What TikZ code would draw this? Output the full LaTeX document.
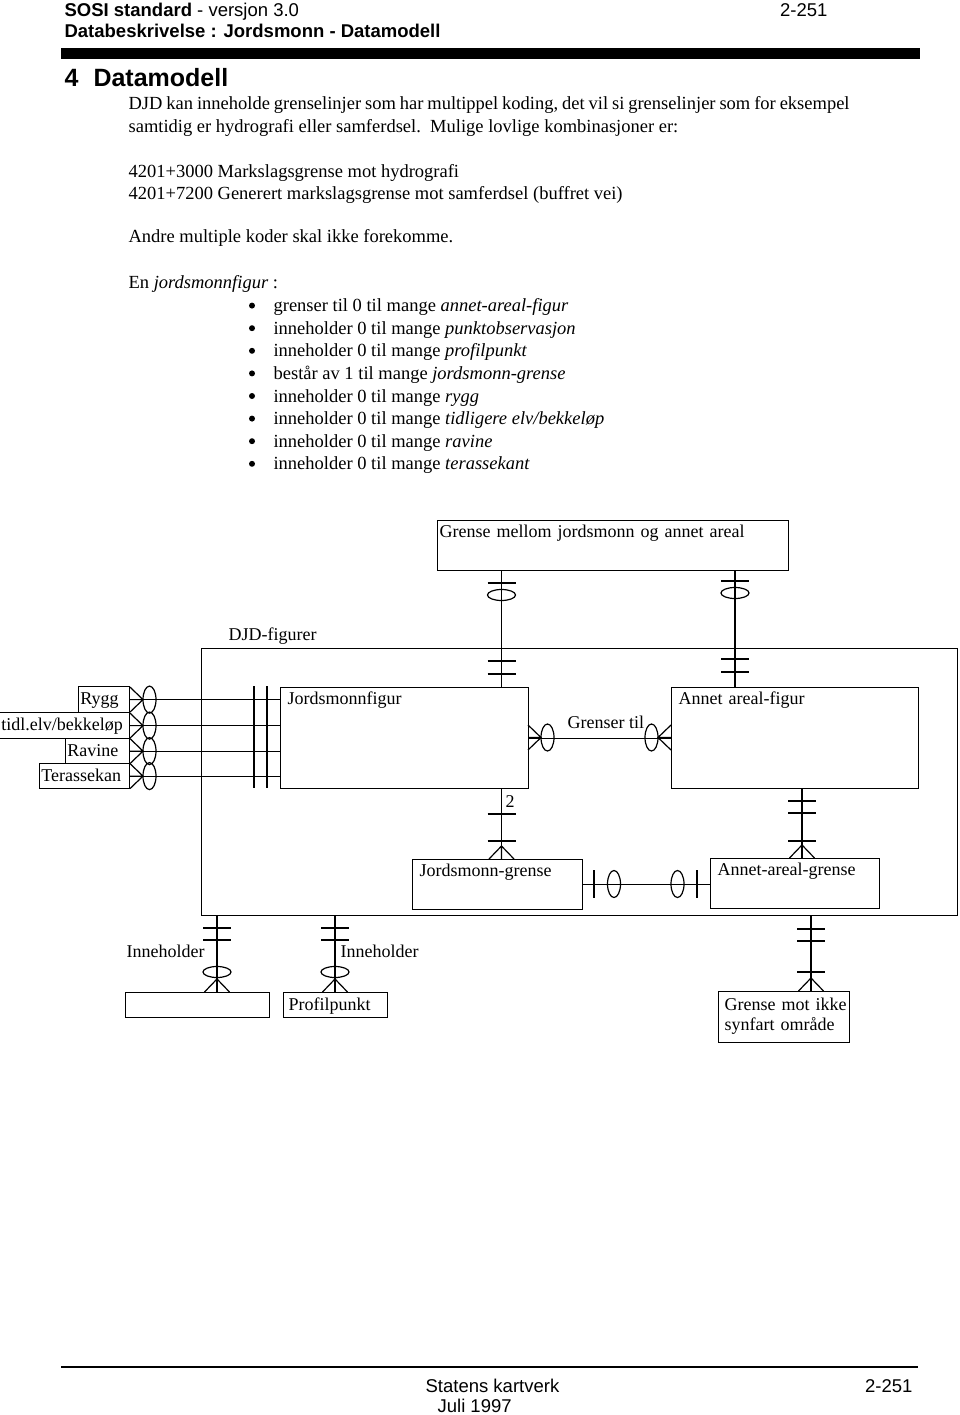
\documentclass[tikz,border=0pt]{standalone}
\usepackage{fontspec}
\setmainfont{Liberation Serif}
\setsansfont{Liberation Sans}
\usetikzlibrary{positioning}

\newcommand{\erfont}{\fontsize{18}{20}\selectfont}
\newcommand{\brodfont}{\fontsize{18.5}{22.6}\selectfont}
\newcommand{\topfont}{\sffamily\fontsize{18.5}{22}\selectfont}

\tikzstyle{entity}=[draw,anchor=north west,inner xsep=7pt,inner ysep=0pt,align=left,text height=17pt,font=\erfont]
\tikzstyle{smaaboks}=[entity,anchor=north east,inner xsep=2pt,text height=18pt]
\tikzstyle{ertekst}=[anchor=base west,inner sep=0pt,font=\erfont]
\tikzstyle{brodtekst}=[anchor=base west,inner sep=0pt,font=\brodfont]
\tikzstyle{topptekst}=[anchor=base west,inner sep=0pt,font=\topfont]
\tikzstyle{prikk}=[circle,fill,inner sep=0pt,minimum size=6pt]

\tikzset{
  bar/.pic={\draw (0,-14) -- (0,14);},
  ring/.pic={\draw (0,0) ellipse (6.5pt and 13.5pt);},
  flatring/.pic={\draw (0,0) ellipse (14pt and 5.5pt);},
  crow/.pic={\draw (13,-12.5) -- (0,0) -- (13,12.5) (0,0) -- (13,0);}
}

\begin{document}
\begin{tikzpicture}[x=1pt,y=-1pt,line width=1.2pt]
\useasboundingbox (0,0) rectangle (960,1415);
% sidehode
\node[topptekst] (sosi) at (64,17) {\textbf{SOSI standard} - versjon 3.0};
\node[topptekst,anchor=base east] (sidetopp) at (828,17) {2-251};
\node[topptekst,font=\topfont\bfseries] (dbesk) at (64,38) {Databeskrivelse : Jordsmonn - Datamodell};
\fill (61,48) rectangle (920,59);
\node[topptekst,font=\sffamily\bfseries\fontsize{25}{28}\selectfont] (kap) at (64,87) {4\hspace{15pt}Datamodell};

% tekst
\node[brodtekst] (avs1) at (128,110) {\spaceskip=3.9pt DJD kan inneholde grenselinjer som har multippel koding, det vil si grenselinjer som for eksempel};
\node[brodtekst] (avs2) at (128,133) {samtidig er hydrografi eller samferdsel.\ \ Mulige lovlige kombinasjoner er:};
\node[brodtekst] (komb1) at (128,178) {4201+3000 Markslagsgrense mot hydrografi};
\node[brodtekst] (komb2) at (128,200) {4201+7200 Generert markslagsgrense mot samferdsel (buffret vei)};
\node[brodtekst] (avs3) at (128,243) {Andre multiple koder skal ikke forekomme.};
\node[brodtekst] (avs4) at (128,288) {En \textit{jordsmonnfigur} :};
\foreach \tekst [count=\i] in {grenser til 0 til mange \textit{annet-areal-figur},
    inneholder 0 til mange \textit{punktobservasjon},
    inneholder 0 til mange \textit{profilpunkt},
    består av 1 til mange \textit{jordsmonn-grense},
    inneholder 0 til mange \textit{rygg},
    inneholder 0 til mange \textit{tidligere elv/bekkeløp},
    inneholder 0 til mange \textit{ravine},
    inneholder 0 til mange \textit{terassekant}}{
  \node[prikk] (prikk\i) at (252,{283+22.6*\i}) {};
  \node[brodtekst] (linje\i) at (273,{289.1+22.6*\i}) {\tekst};
}

% entiteter
\node[entity,inner xsep=2pt,text width=347pt,text depth=33pt] (grense) at (437,520) {Grense mellom jordsmonn og annet areal};
\node[draw,anchor=north west,minimum width=756pt,minimum height=267pt,inner sep=0pt] (djd) at (201,648) {};
\node[ertekst] (djdnavn) at (228,640) {DJD-figurer};
\node[entity,text width=234pt,text depth=84pt] (jfig) at (280,687) {Jordsmonnfigur};
\node[entity,text width=233pt,text depth=84pt] (afig) at (671,687) {Annet areal-figur};
\node[entity,text width=156pt,text depth=33pt] (jgr) at (412,859) {Jordsmonn-grense};
\node[entity,text width=155pt,text depth=33pt] (agr) at (710,858) {Annet-areal-grense};
\node[smaaboks,text width=47pt,text depth=8pt] (rygg) at (130,686) {Rygg};
\node[smaaboks,text width=126pt,text depth=8pt] (tidl) at (130,712) {tidl.elv/bekkeløp};
\node[smaaboks,text width=60pt,text depth=7pt] (ravine) at (130,738) {Ravine};
\node[smaaboks,text width=86pt,text depth=7pt] (terasse) at (130,763) {Terassekan};
\node[entity,inner xsep=5pt,text width=134pt,text height=18pt,text depth=7pt] (punktobs) at (125,992) {};
\node[entity,inner xsep=5pt,text width=94pt,text height=18pt,text depth=7pt] (profil) at (283,992) {Profilpunkt};
\node[entity,inner xsep=6pt,text width=119pt,text height=19pt,text depth=32pt] (synfart) at (718,991) {\mbox{Grense mot ikke}\\\mbox{synfart område}};

% linjer
\coordinate (xj) at (501.5,0);
\coordinate (xa) at (735,0);
\coordinate (xd) at (802,0);
\coordinate (xe) at (217,0);
\coordinate (xf) at (335,0);
\coordinate (xg) at (811,0);
\draw (grense.south -| xj) -- (jfig.north -| xj);
\draw (grense.south -| xa) -- (afig.north -| xa);
\draw (jfig.east) -- (afig.west);
\draw (jfig.south -| xj) -- (jgr.north -| xj);
\draw (afig.south -| xd) -- (agr.north -| xd);
\draw (jgr.east) -- (jgr.east -| agr.west);
\draw (djd.south -| xe) -- (punktobs.north -| xe);
\draw (djd.south -| xf) -- (profil.north -| xf);
\draw (djd.south -| xg) -- (synfart.north -| xg);
\foreach \n in {rygg,tidl,ravine,terasse}{
  \draw (\n.east) -- (\n.east -| jfig.west);
  \path (\n.east) ++(13,0) pic[rotate=180] {crow} (\n.east) ++(19.5,0) pic {ring};
}
\draw (254,686) -- (254,788) (267,686) -- (267,788);

% kardinalitet
\foreach \xx/\ya/\yb/\yc/\yd in {501.5/583/595/661/674, 735/581/593/659/672}{
  \pic[rotate=90] at (\xx,\ya) {bar};
  \pic at (\xx,\yb) {flatring};
  \pic[rotate=90] at (\xx,\yc) {bar};
  \pic[rotate=90] at (\xx,\yd) {bar};
}
\pic[rotate=180] at (541,737.5) {crow};
\pic at (547.5,737.5) {ring};
\pic at (651.5,737.5) {ring};
\pic at (658,737.5) {crow};
\node[ertekst] (grensertil) at (567,728) {Grenser til};

\node[ertekst] (to) at (505,807) {2};
\foreach \yy in {814,841} \pic[rotate=90] at (501.5,\yy) {bar};
\pic[rotate=-90] at (501.5,846) {crow};
\foreach \yy in {801,813,841} \pic[rotate=90] at (802,\yy) {bar};
\pic[rotate=-90] at (802,845) {crow};

\pic at (594,884) {bar};
\pic at (614,884) {ring};
\pic at (677.5,884) {ring};
\pic at (697,884) {bar};

\foreach \xx in {217,335}{
  \pic[rotate=90] at (\xx,928) {bar};
  \pic[rotate=90] at (\xx,940) {bar};
  \pic at (\xx,972) {flatring};
  \pic[rotate=-90] at (\xx,979) {crow};
}
\node[ertekst] (inneh1) at (126,957) {Inneholder};
\node[ertekst] (inneh2) at (340,957) {Inneholder};
\foreach \yy in {929,941,972} \pic[rotate=90] at (811,\yy) {bar};
\pic[rotate=-90] at (811,978) {crow};

% bunntekst
\draw[line width=1.8pt] (61,1367) -- (918,1367);
\node[topptekst] (etat) at (425,1392) {Statens kartverk};
\node[topptekst,anchor=base east] (sidebunn) at (913,1392) {2-251};
\node[topptekst] (dato) at (437,1412) {Juli 1997};
\end{tikzpicture}
\end{document}
